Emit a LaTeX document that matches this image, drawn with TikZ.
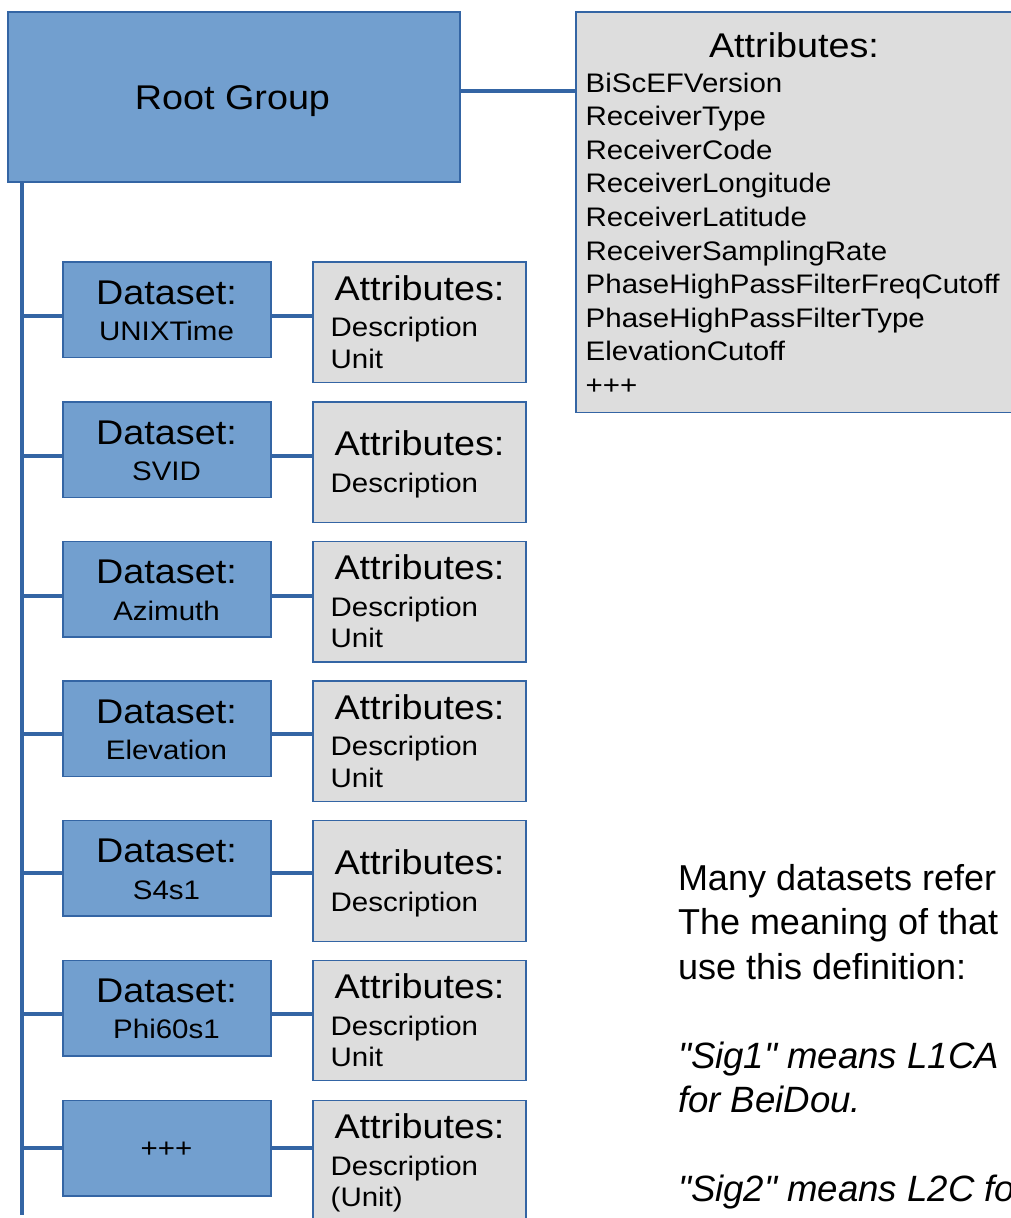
\documentclass[tikz,border=0pt]{standalone}
\usepackage{fontspec}
\setmainfont{Liberation Sans}[FakeStretch=1.1]
\newfontfamily\NoteFont{Liberation Sans}
\definecolor{boxblue}{HTML}{729FCF}
\definecolor{lineblue}{HTML}{3465A4}
\definecolor{boxgray}{HTML}{DDDDDD}
\newcommand\BigF{\fontsize{34.3}{40}\selectfont}
\newcommand\SmallF{\fontsize{26.8}{32}\selectfont}
\newcommand\NoteF{\NoteFont\fontsize{36}{44.5}\selectfont}
\newcommand\NoteIF{\NoteFont\itshape\fontsize{36.6}{44.5}\selectfont}
\newcommand\DsRow[4]{% #1 index, #2 top, #3 unit line or empty, #4 branch offset
  \node[bluebox, minimum width=208pt, minimum height=95.5pt] (ds#1) at (63,#2) {};
  \node[graybox, minimum width=213pt, minimum height=120.5pt] (at#1) at (313,#2) {};
  \coordinate (br#1) at (21.7,{#2+#4});
  \draw[conn] (br#1) -- (br#1 -| ds#1.west);
  \draw[conn] (br#1 -| ds#1.east) -- (br#1 -| at#1.west);
  \if\relax\detokenize{#3}\relax
    \node[lbl, font=\BigF] (atT#1) at (419.5,{#2+53.8}) {Attributes:};
    \node[lbll, font=\SmallF] (atD#1) at (330.7,{#2+90.5}) {Description};
  \else
    \node[lbl, font=\BigF] (atT#1) at (419.5,{#2+38}) {Attributes:};
    \node[lbll, font=\SmallF] (atD#1) at (330.7,{#2+74.7}) {Description};
    \node[lbll, font=\SmallF] (atU#1) at (330.7,{#2+106.3}) {#3};
  \fi
}
\begin{document}
\begin{tikzpicture}[x=1pt,y=-1pt,
  bluebox/.style={rectangle, draw=lineblue, line width=1.5pt, fill=boxblue, inner sep=0pt, outer sep=0pt, anchor=north west},
  graybox/.style={rectangle, draw=lineblue, line width=1.3pt, fill=boxgray, inner sep=0pt, outer sep=0pt, anchor=north west},
  conn/.style={draw=lineblue, line width=4pt},
  lbl/.style={inner sep=0pt, outer sep=0pt, anchor=base, text=black},
  lbll/.style={lbl, anchor=base west}]
\useasboundingbox (0,0) rectangle (1011,1218);
\clip (0,0) rectangle (1011,1218);

% Root group and its attributes
\node[bluebox, minimum width=452pt, minimum height=170pt] (root) at (8,12) {};
\node[lbl, font=\BigF] (rootT) at (232.5,109.3) {Root Group};
\node[graybox, minimum width=437pt, minimum height=400.5pt] (big) at (576,12) {};
\coordinate (rb) at ([yshift=6pt]root.east);
\draw[conn] (rb) -- (rb -| big.west);
\node[lbl, font=\BigF] (bigT) at (794,57) {Attributes:};
\foreach \t [count=\i from 0] in {BiScEFVersion,ReceiverType,ReceiverCode,ReceiverLongitude,ReceiverLatitude,ReceiverSamplingRate,PhaseHighPassFilterFreqCutoff,PhaseHighPassFilterType,ElevationCutoff,+++}
  \node[lbll, font=\SmallF] (bigL\i) at (585.7,{92+33.6*\i}) {\t};

% bus
\coordinate (busEnd) at (21.7,1215);
\draw[conn] (root.south -| busEnd) -- (busEnd);

% dataset rows
\DsRow{0}{262}{Unit}{53.5}
\DsRow{1}{402}{}{54}
\DsRow{2}{541.5}{Unit}{54}
\DsRow{3}{681}{Unit}{52.7}
\DsRow{4}{820.7}{}{52.7}
\DsRow{5}{960.3}{Unit}{54}
\DsRow{6}{1100.3}{(Unit)}{48}

\node[lbl, font=\BigF] (dsA0) at (166.5,304) {Dataset:};
\node[lbl, font=\SmallF] (dsB0) at (166.5,340.6) {UNIXTime};
\node[lbl, font=\BigF] (dsA1) at (166.5,444) {Dataset:};
\node[lbl, font=\SmallF] (dsB1) at (166.5,480.6) {SVID};
\node[lbl, font=\BigF] (dsA2) at (166.5,583.5) {Dataset:};
\node[lbl, font=\SmallF] (dsB2) at (166.5,620.1) {Azimuth};
\node[lbl, font=\BigF] (dsA3) at (166.5,723) {Dataset:};
\node[lbl, font=\SmallF] (dsB3) at (166.5,759.6) {Elevation};
\node[lbl, font=\BigF] (dsA4) at (166.5,862.7) {Dataset:};
\node[lbl, font=\SmallF] (dsB4) at (166.5,899.3) {S4s1};
\node[lbl, font=\BigF] (dsA5) at (166.5,1002.3) {Dataset:};
\node[lbl, font=\SmallF] (dsB5) at (166.5,1038.9) {Phi60s1};
\node[lbl, font=\SmallF] (dsB6) at (166.5,1157.7) {+++};

% note text (cut off at the right edge)
\node[lbll, font=\NoteF] (n1) at (678,890) {Many datasets refer};
\node[lbll, font=\NoteF] (n2) at (678,934.5) {The meaning of that};
\node[lbll, font=\NoteF] (n3) at (678,979) {use this definition:};
\node[lbll, font=\NoteIF] (n4) at (678,1068) {"Sig1" means L1CA};
\node[lbll, font=\NoteIF] (n5) at (678,1112.5) {for BeiDou.};
\node[lbll, font=\NoteIF] (n6) at (678,1201.5) {"Sig2" means L2C fo};
\end{tikzpicture}
\end{document}
